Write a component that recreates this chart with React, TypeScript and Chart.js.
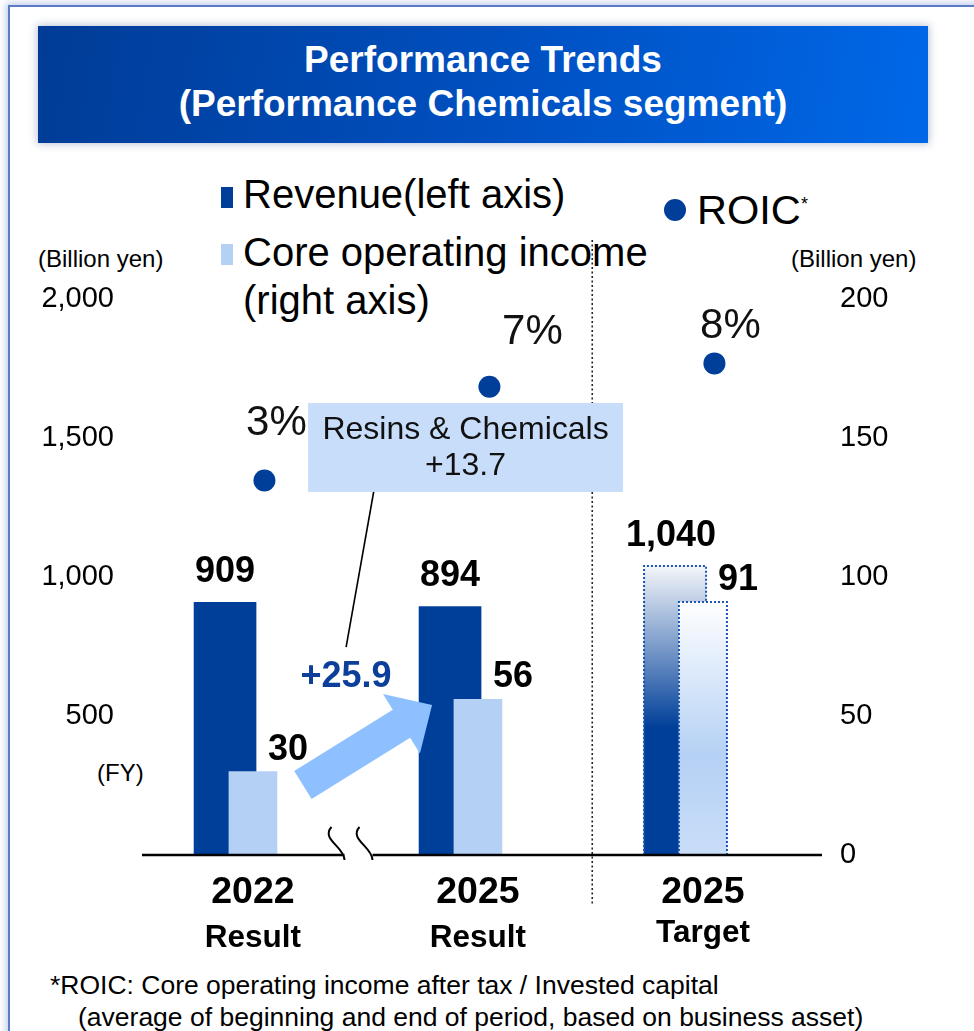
import React, { useEffect, useRef } from 'react';
import { Chart, registerables } from 'chart.js';

Chart.register(...registerables);

// ---------------- data ----------------
const categories = ['2022', '2025', '2025'];
const categoryNotes = ['Result', 'Result', 'Target'];
const revenue = [909, 894, 1040];
const coreOperatingIncome = [30, 56, 91];
const roic = [3, 7, 8];
const leftTickValues = [500, 1000, 1500, 2000];
const rightTickValues = [0, 50, 100, 150, 200];
const incomeGrowthLabel = '+25.9';
const calloutText = ['Resins & Chemicals', '+13.7'];
const targetIndex = 2;

// ---------------- layout / style ----------------
const W = 974;
const H = 1031;
const FONT = '"Liberation Sans", Arial, Helvetica, sans-serif';
const DARK = '#003f99';
const LIGHT = '#b4d0f4';
const ARROW = '#8ec0ff';
const CALLOUT_FILL = '#c7ddf9';
const BAR_SHIFT = 0.062; // category units
const ROIC_SHIFT = 0.113;
const ROIC_LABEL_OFFSETS = [
  [12, -57],
  [43, -54],
  [16, -37],
];

function drawArrow(ctx: CanvasRenderingContext2D, tx: number, ty: number, hx: number, hy: number,
  shaftHalf: number, headHalf: number, headLen: number) {
  const dx = hx - tx;
  const dy = hy - ty;
  const len = Math.hypot(dx, dy);
  const ux = dx / len;
  const uy = dy / len;
  const nx = -uy;
  const ny = ux;
  const bx = hx - ux * headLen;
  const by = hy - uy * headLen;
  ctx.beginPath();
  ctx.moveTo(tx + nx * shaftHalf, ty + ny * shaftHalf);
  ctx.lineTo(bx + nx * shaftHalf, by + ny * shaftHalf);
  ctx.lineTo(bx + nx * headHalf, by + ny * headHalf);
  ctx.lineTo(hx, hy);
  ctx.lineTo(bx - nx * headHalf, by - ny * headHalf);
  ctx.lineTo(bx - nx * shaftHalf, by - ny * shaftHalf);
  ctx.lineTo(tx - nx * shaftHalf, ty - ny * shaftHalf);
  ctx.closePath();
  ctx.fill();
}

const overlayPlugin = {
  id: 'overlay',
  afterDatasetsDraw(chart: any) {
    const ctx: CanvasRenderingContext2D = chart.ctx;
    const area = chart.chartArea;
    const xs = chart.scales.x;
    const ys = chart.scales.y;
    const y1 = chart.scales.y1;
    const revMeta = chart.getDatasetMeta(0);
    const incMeta = chart.getDatasetMeta(1);
    const roicMeta = chart.getDatasetMeta(2);
    const px = (v: number) => xs.getPixelForValue(v);

    ctx.save();

    // dotted outlines of target bars
    const dBar = revMeta.data[targetIndex];
    const lBar = incMeta.data[targetIndex];
    if (dBar && lBar) {
      ctx.strokeStyle = '#1c55b0';
      ctx.lineWidth = 2;
      ctx.setLineDash([2, 2]);
      const dl = dBar.x - dBar.width / 2;
      const dr = dBar.x + dBar.width / 2;
      ctx.beginPath();
      ctx.moveTo(dl, dBar.base);
      ctx.lineTo(dl, dBar.y);
      ctx.lineTo(dr, dBar.y);
      ctx.lineTo(dr, lBar.y);
      ctx.stroke();
      const ll = lBar.x - lBar.width / 2;
      const lr = lBar.x + lBar.width / 2;
      ctx.beginPath();
      ctx.moveTo(ll, lBar.base);
      ctx.lineTo(ll, lBar.y);
      ctx.lineTo(lr, lBar.y);
      ctx.lineTo(lr, lBar.base);
      ctx.stroke();
      ctx.setLineDash([]);
    }

    // baseline with break mark
    const bx = px(0.5);
    const baseY = area.bottom;
    ctx.strokeStyle = '#000';
    ctx.lineWidth = 2.5;
    ctx.beginPath();
    ctx.moveTo(area.left + 15.5, baseY);
    ctx.lineTo(bx - 7, baseY);
    ctx.moveTo(bx + 21, baseY);
    ctx.lineTo(area.right + 20.5, baseY);
    ctx.stroke();
    ctx.lineWidth = 2;
    for (const off of [0, 28]) {
      ctx.beginPath();
      ctx.moveTo(bx - 20 + off, baseY - 28);
      ctx.bezierCurveTo(bx - 31 + off, baseY - 16, bx - 7 + off, baseY - 8, bx - 7 + off, baseY + 5);
      ctx.stroke();
    }

    // dotted separator
    const sx = px(1.57);
    ctx.strokeStyle = '#222';
    ctx.lineWidth = 1.6;
    ctx.setLineDash([2, 2.5]);
    ctx.beginPath();
    ctx.moveTo(sx, area.top - 59);
    ctx.lineTo(sx, area.bottom + 51);
    ctx.stroke();
    ctx.setLineDash([]);

    // growth arrow
    ctx.fillStyle = ARROW;
    drawArrow(ctx, px(0.284), y1.getPixelForValue(25.2), px(0.858), y1.getPixelForValue(54), 16.5, 35, 36);

    // growth label
    ctx.fillStyle = '#0b3f9a';
    ctx.font = `bold 36px ${FONT}`;
    ctx.textAlign = 'center';
    ctx.textBaseline = 'alphabetic';
    ctx.fillText(incomeGrowthLabel, px(0.476), y1.getPixelForValue(60.5));

    // callout leader + box
    ctx.strokeStyle = '#000';
    ctx.lineWidth = 1.6;
    ctx.beginPath();
    ctx.moveTo(px(0.6), ys.getPixelForValue(1313));
    ctx.lineTo(px(0.476), ys.getPixelForValue(748));
    ctx.stroke();
    const cx0 = px(0.307);
    const cx1 = px(1.707);
    const cy0 = ys.getPixelForValue(1626);
    const cy1 = ys.getPixelForValue(1306);
    ctx.fillStyle = CALLOUT_FILL;
    ctx.fillRect(cx0, cy0, cx1 - cx0, cy1 - cy0);
    ctx.fillStyle = '#111';
    ctx.font = `32px ${FONT}`;
    ctx.textBaseline = 'middle';
    const cmx = (cx0 + cx1) / 2;
    const cmy = (cy0 + cy1) / 2;
    ctx.fillText(calloutText[0], cmx, cmy - 17);
    ctx.fillText(calloutText[1], cmx, cmy + 19);

    // data labels
    ctx.fillStyle = '#000';
    ctx.font = `bold 36px ${FONT}`;
    ctx.textBaseline = 'alphabetic';
    revMeta.data.forEach((el: any, i: number) => {
      ctx.textAlign = 'center';
      ctx.fillText(revenue[i].toLocaleString('en-US'), el.x - (i === targetIndex ? 4 : 0), el.y - 20);
    });
    incMeta.data.forEach((el: any, i: number) => {
      ctx.textAlign = 'left';
      ctx.fillText(coreOperatingIncome[i].toLocaleString('en-US'), el.x + 15, el.y - 12);
    });

    // ROIC labels
    ctx.font = `42px ${FONT}`;
    ctx.fillStyle = '#111';
    ctx.textAlign = 'center';
    ctx.textBaseline = 'middle';
    roicMeta.data.forEach((el: any, i: number) => {
      const [dx, dy] = ROIC_LABEL_OFFSETS[i];
      ctx.fillText(`${roic[i]}%`, el.x + dx, el.y + dy);
    });

    // category labels
    ctx.fillStyle = '#000';
    ctx.textBaseline = 'alphabetic';
    incMeta.data.forEach((el: any, i: number) => {
      ctx.font = `bold 37.5px ${FONT}`;
      ctx.fillText(categories[i], el.x, area.bottom + 48);
      ctx.font = `bold 31.5px ${FONT}`;
      ctx.fillText(categoryNotes[i], el.x, area.bottom + (i === targetIndex ? 87 : 92));
    });

    ctx.restore();
  },
};

function gradientFor(context: any, stops: [number, string][], fallback: string, axisId: string) {
  const chart = context.chart;
  const scale = chart.scales?.[axisId];
  if (!scale || !chart.chartArea) return fallback;
  const value = context.parsed?.y;
  if (value == null) return fallback;
  const top = scale.getPixelForValue(value);
  const base = scale.getPixelForValue(0);
  if (!isFinite(top) || !isFinite(base) || top === base) return fallback;
  const g = chart.ctx.createLinearGradient(0, top, 0, base);
  stops.forEach(([p, c]) => g.addColorStop(p, c));
  return g;
}

export default function App() {
  const ref = useRef<HTMLCanvasElement | null>(null);

  useEffect(() => {
    const canvas = ref.current;
    if (!canvas) return;
    const chart = new Chart(canvas, {
      type: 'bar',
      data: {
        datasets: [
          {
            label: 'Revenue(left axis)',
            data: revenue.map((v, i) => ({ x: i - BAR_SHIFT, y: v })),
            xAxisID: 'x',
            yAxisID: 'y',
            order: 3,
            grouped: false,
            barThickness: 62,
            borderWidth: 0,
            backgroundColor: (c: any) =>
              c.dataIndex === targetIndex
                ? gradientFor(c, [[0, '#f4f6fa'], [0.56, DARK], [1, DARK]], DARK, 'y')
                : DARK,
          } as any,
          {
            label: 'Core operating income (right axis)',
            data: coreOperatingIncome.map((v, i) => ({ x: i + BAR_SHIFT, y: v })),
            xAxisID: 'x',
            yAxisID: 'y1',
            order: 2,
            grouped: false,
            barThickness: 48,
            borderWidth: 0,
            backgroundColor: (c: any) =>
              c.dataIndex === targetIndex
                ? gradientFor(c, [[0, '#ffffff'], [0.6, '#b5d1f5'], [1, '#c9ddf8']], LIGHT, 'y1')
                : LIGHT,
          } as any,
          {
            type: 'line',
            label: 'ROIC',
            data: roic.map((v, i) => ({ x: i + ROIC_SHIFT, y: v })),
            xAxisID: 'x',
            yAxisID: 'y3',
            order: 1,
            showLine: false,
            pointRadius: 11,
            pointBackgroundColor: DARK,
            pointBorderWidth: 0,
            borderColor: DARK,
          } as any,
        ],
      },
      options: {
        animation: false,
        responsive: false,
        devicePixelRatio: 1,
        events: [],
        layout: { padding: { left: 16.5, right: 22.5, top: 299, bottom: 176 } },
        plugins: {
          legend: { display: false },
          tooltip: { enabled: false },
          title: { display: false },
        },
        scales: {
          x: {
            type: 'linear',
            min: -0.5,
            max: 2.5,
            offset: false,
            display: false,
          },
          y: {
            type: 'linear',
            position: 'left',
            min: 0,
            max: 2000,
            afterBuildTicks: (s: any) => {
              s.ticks = leftTickValues.map((v) => ({ value: v }));
            },
            afterFit: (s: any) => {
              s.width = 110;
            },
            ticks: {
              color: '#000',
              padding: 12.5,
              font: { size: 29, family: FONT },
              callback: (v: any) => Number(v).toLocaleString('en-US'),
            },
            grid: { display: false, drawTicks: false },
            border: { display: false },
          },
          y1: {
            type: 'linear',
            position: 'right',
            min: 0,
            max: 200,
            afterBuildTicks: (s: any) => {
              s.ticks = rightTickValues.map((v) => ({ value: v }));
            },
            afterFit: (s: any) => {
              s.width = 150;
            },
            ticks: {
              color: '#000',
              padding: 38.5,
              font: { size: 29, family: FONT },
              callback: (v: any) => Number(v).toLocaleString('en-US'),
            },
            grid: { display: false, drawTicks: false },
            border: { display: false },
          },
          y3: {
            type: 'linear',
            display: false,
            min: -13,
            max: 10.75,
          },
        },
      } as any,
      plugins: [overlayPlugin],
    });
    return () => chart.destroy();
  }, []);

  const text = (extra: React.CSSProperties): React.CSSProperties => ({
    position: 'absolute',
    whiteSpace: 'nowrap',
    color: '#000',
    fontFamily: FONT,
    ...extra,
  });

  return (
    <div
      style={{
        position: 'absolute',
        left: 0,
        top: 0,
        width: W,
        height: H,
        overflow: 'hidden',
        background: '#fff',
        fontFamily: FONT,
      }}
    >
      {/* frame */}
      <div
        style={{
          position: 'absolute',
          left: 8,
          top: 5,
          width: 1200,
          height: 1300,
          borderLeft: '2px solid #5a7cc2',
          borderTop: '2px solid #5a7cc2',
          boxShadow: '0 0 7px 2px rgba(110,140,210,0.45)',
          background: '#fff',
        }}
      />
      {/* title */}
      <div
        style={{
          position: 'absolute',
          left: 38,
          top: 26,
          width: 890,
          height: 117,
          background: 'linear-gradient(100deg, #003c96 0%, #004fbf 50%, #0068e8 100%)',
          boxShadow: '0 0 8px 1px rgba(60,80,140,0.35)',
          color: '#fff',
          fontWeight: 'bold',
          fontSize: 37,
          lineHeight: '44px',
          textAlign: 'center',
          boxSizing: 'border-box',
          paddingTop: 12,
        }}
      >
        <div>Performance Trends</div>
        <div>(Performance Chemicals segment)</div>
      </div>

      {/* legend */}
      <div style={{ position: 'absolute', left: 221, top: 187, width: 12, height: 21, background: DARK }} />
      <div style={text({ left: 243, top: 172, fontSize: 40, lineHeight: '44px' })}>Revenue(left axis)</div>
      <div style={{ position: 'absolute', left: 221, top: 244, width: 12, height: 21, background: LIGHT }} />
      <div style={text({ left: 243, top: 228, fontSize: 40, lineHeight: '48px' })}>
        Core operating income
        <br />
        (right axis)
      </div>
      <div
        style={{
          position: 'absolute',
          left: 664,
          top: 199,
          width: 22,
          height: 22,
          borderRadius: '50%',
          background: DARK,
        }}
      />
      <div style={text({ left: 697, top: 188, fontSize: 41.5, lineHeight: '44px' })}>
        ROIC
        <span style={{ position: 'absolute', left: 104, top: -6, fontSize: 18 }}>*</span>
      </div>

      {/* axis titles */}
      <div style={text({ left: 38, top: 245, fontSize: 24, lineHeight: '28px' })}>(Billion yen)</div>
      <div style={text({ left: 791, top: 245, fontSize: 24, lineHeight: '28px' })}>(Billion yen)</div>
      <div style={text({ left: 97, top: 759, fontSize: 24, lineHeight: '28px' })}>(FY)</div>

      {/* footnote */}
      <div style={text({ left: 50, top: 969, fontSize: 26.5, lineHeight: '32px' })}>
        *ROIC: Core operating income after tax / Invested capital
      </div>
      <div style={text({ left: 78, top: 1001, fontSize: 26.5, lineHeight: '32px' })}>
        (average of beginning and end of period, based on business asset)
      </div>

      <canvas
        ref={ref}
        width={W}
        height={H}
        style={{ position: 'absolute', left: 0, top: 0, width: W, height: H }}
      />
    </div>
  );
}
